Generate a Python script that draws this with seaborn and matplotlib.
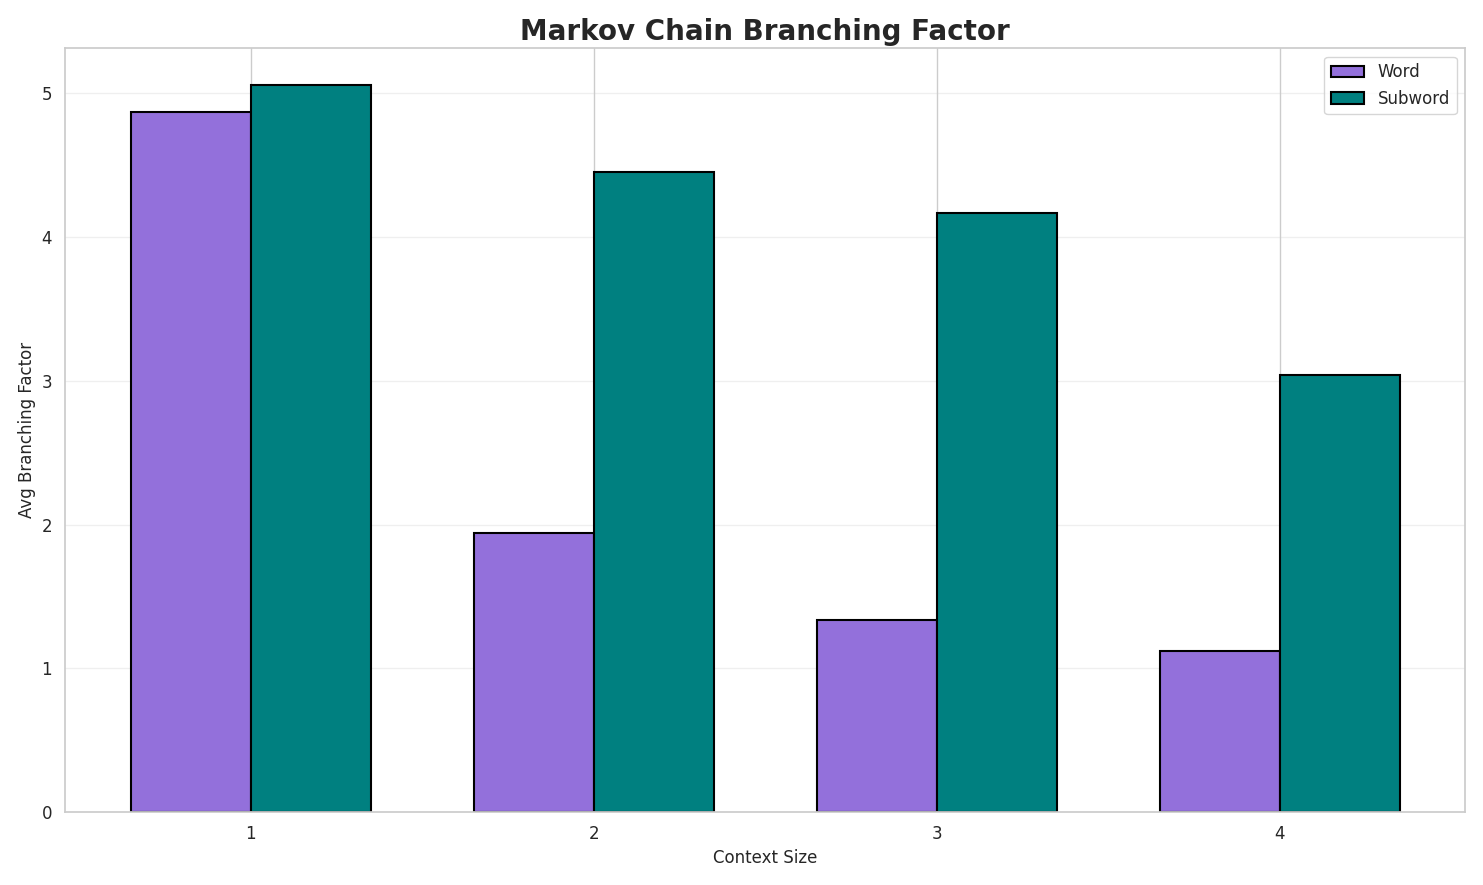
import matplotlib
matplotlib.use("Agg")
import matplotlib.pyplot as plt
import seaborn as sns
import numpy as np

context_sizes = [1, 2, 3, 4]
word_values = [4.87, 1.94, 1.34, 1.12]
subword_values = [5.06, 4.45, 4.17, 3.04]

sns.set_theme(style="whitegrid")
fig, ax = plt.subplots(figsize=(14.83, 8.85), dpi=100)
x = np.array(context_sizes, dtype=float)
w = 0.35
ax.bar(x - w, word_values, w, align="edge", color="#9370DB", edgecolor="black", linewidth=1.5, label="Word")
ax.bar(x, subword_values, w, align="edge", color="#008080", edgecolor="black", linewidth=1.5, label="Subword")
ax.set_xticks(x)
ax.set_xticklabels([str(c) for c in context_sizes])
ax.set_xlabel("Context Size", fontsize=12)
ax.set_ylabel("Avg Branching Factor", fontsize=12)
ax.set_title("Markov Chain Branching Factor", fontsize=20, fontweight="bold")
ax.tick_params(labelsize=12)
ax.grid(axis="y", alpha=0.3)
ax.legend(fontsize=12, loc="upper right")
ax.set_xlim(0.46, 4.54)
plt.tight_layout()
fig.savefig("out.png", dpi=100)
